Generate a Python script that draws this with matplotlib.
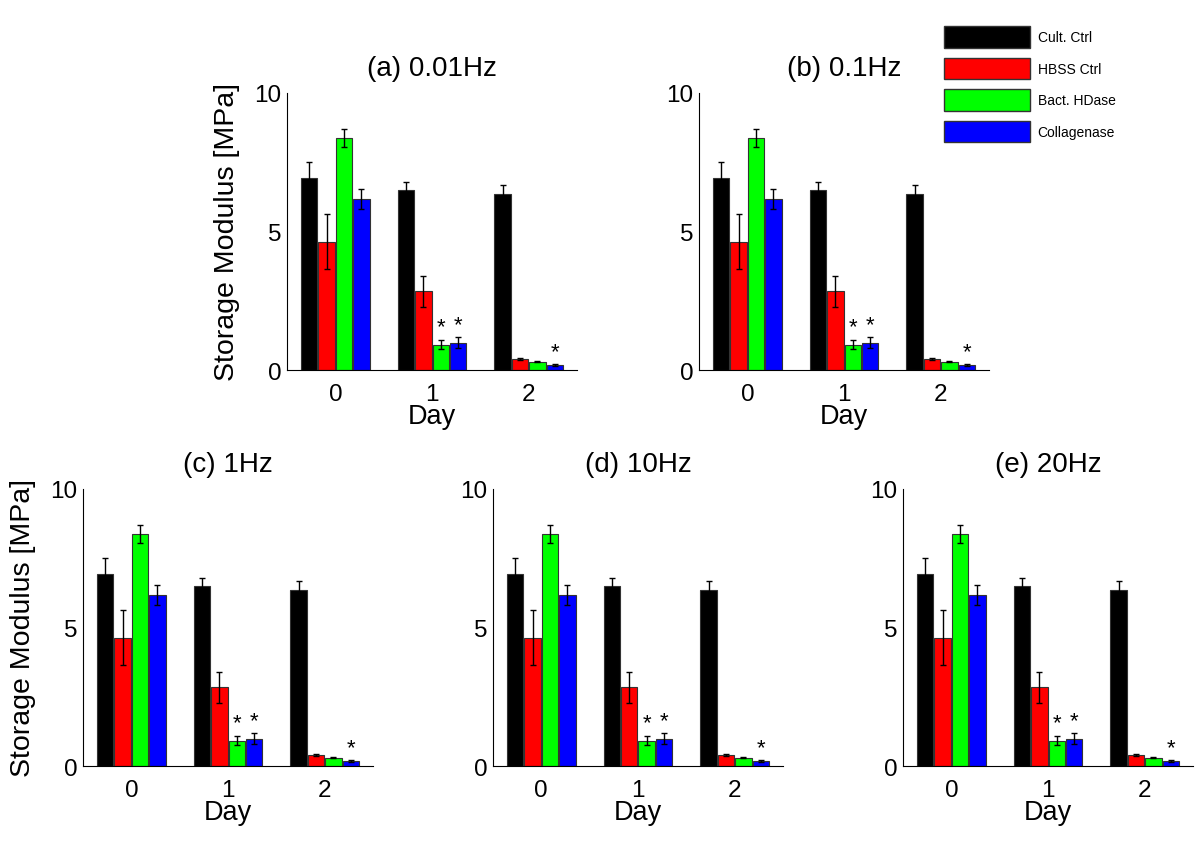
import numpy as np
import matplotlib.pyplot as plt
from matplotlib.patches import Patch

plt.rcParams['font.family'] = ['Liberation Sans', 'DejaVu Sans']

days = [0, 1, 2]
groups = ['Cult. Ctrl', 'HBSS Ctrl', 'Bact. HDase', 'Collagenase']
colors = ['#000000', '#ff0000', '#00ff00', '#0000ff']

# storage modulus [MPa], one list per group, values for day 0, 1, 2
cult_ctrl = [6.92, 6.48, 6.36]
hbss_ctrl = [4.63, 2.84, 0.40]
bact_hdase = [8.36, 0.92, 0.30]
collagenase = [6.16, 0.99, 0.18]

cult_err = [0.57, 0.32, 0.32]
hbss_err = [1.00, 0.55, 0.03]
bact_err = [0.32, 0.17, 0.02]
coll_err = [0.36, 0.19, 0.02]

# significance marks (group index, day index)
stars = [(2, 1), (3, 1), (3, 2)]

titles = ['(a) 0.01Hz', '(b) 0.1Hz', '(c) 1Hz', '(d) 10Hz', '(e) 20Hz']

means = [cult_ctrl, hbss_ctrl, bact_hdase, collagenase]
errs = [cult_err, hbss_err, bact_err, coll_err]

fig = plt.figure(figsize=(12, 8.45), dpi=100)
w, h = 0.2417, 0.328
positions = [
    [0.2392, 0.5609, w, h],
    [0.5825, 0.5609, w, h],
    [0.0692, 0.0923, w, h],
    [0.4108, 0.0923, w, h],
    [0.7525, 0.0923, w, h],
]

x = np.array(days)
offsets = [-0.27, -0.09, 0.09, 0.27]
bw = 0.17

for i, title in enumerate(titles):
    ax = fig.add_axes(positions[i])
    for g in range(4):
        ax.bar(x + offsets[g], means[g], width=bw, color=colors[g],
               edgecolor='#333333', linewidth=0.8,
               yerr=errs[g], capsize=2,
               error_kw=dict(ecolor='black', elinewidth=1, capthick=1))
    for g, d in stars:
        ax.text(x[d] + offsets[g], means[g][d] + errs[g][d] + 0.08, '*',
                ha='center', va='bottom', fontsize=16)
    ax.set_xlim(-0.5, 2.5)
    ax.set_ylim(0, 10)
    ax.set_xticks(days)
    ax.set_yticks([0, 5, 10])
    ax.tick_params(length=0, labelsize=17.5)
    ax.tick_params(axis='x', pad=9)
    ax.tick_params(axis='y', pad=4)
    ax.spines['top'].set_visible(False)
    ax.spines['right'].set_visible(False)
    ax.set_title(title, fontsize=20, pad=13)
    ax.set_xlabel('Day', fontsize=19.5, labelpad=-1)
    if i in (0, 2):
        ax.set_ylabel('Storage Modulus [MPa]', fontsize=20.5, labelpad=10)

handles = [Patch(facecolor=c, edgecolor='#333333') for c in colors]
fig.legend(handles, groups, loc='upper left', bbox_to_anchor=(0.7865, 0.968),
           frameon=False, fontsize=10, handlelength=6.2, handleheight=2.05,
           labelspacing=0.69, handletextpad=0.55, borderpad=0, borderaxespad=0)

plt.savefig('out.png', dpi=100)
